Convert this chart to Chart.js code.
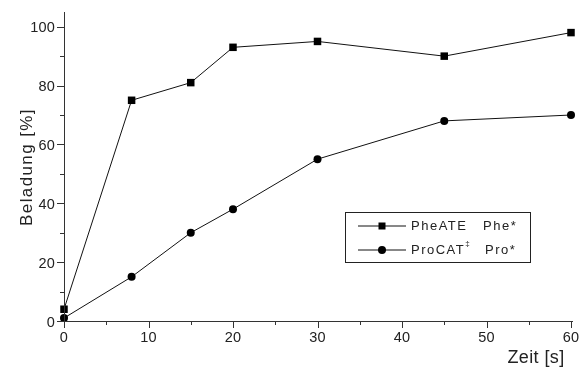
<!DOCTYPE html>
<html><head><meta charset="utf-8">
<script src="https://cdn.jsdelivr.net/npm/chart.js@4"></script>
<style>html,body{margin:0;padding:0;background:#fff}#c{display:block}</style>
</head><body>
<canvas id="c" width="581" height="367"></canvas>
<script>
const times = [0, 8, 15, 20, 30, 45, 60];
const pheATE = [4, 75, 81, 93, 95, 90, 98];
const proCAT = [1, 15, 30, 38, 55, 68, 70];
const xTicks = [0, 10, 20, 30, 40, 50, 60];
const yTicks = [0, 20, 40, 60, 80, 100];
const seriesNames = [['PheATE', 'Phe*', ''], ['ProCAT', 'Pro*', '\u2021']];
const FONT = '"Liberation Sans", Arial, sans-serif';
const AX = '#333';

const ticksPlugin = {
  id: 'customTicks',
  afterDraw(chart) {
    const ctx = chart.ctx, xs = chart.scales.x, ys = chart.scales.y;
    const ca = chart.chartArea;
    ctx.save();
    ctx.strokeStyle = AX; ctx.lineWidth = 1;
    ctx.beginPath();
    ctx.moveTo(ca.left + 0.5, ca.top); ctx.lineTo(ca.left + 0.5, ca.bottom + 0.5);
    ctx.lineTo(ca.right + 2, ca.bottom + 0.5);
    ctx.stroke();
    ctx.fillStyle = '#222';
    ctx.font = '14.5px ' + FONT;
    ctx.letterSpacing = '0.2px';
    for (let v = 0; v <= 60; v += 5) {
      const px = Math.round(xs.getPixelForValue(v)) + 0.5;
      const major = v % 10 === 0;
      ctx.beginPath(); ctx.moveTo(px, ca.bottom); ctx.lineTo(px, ca.bottom + (major ? 7 : 4)); ctx.stroke();
    }
    ctx.textAlign = 'center'; ctx.textBaseline = 'alphabetic';
    xTicks.forEach(v => ctx.fillText(String(v), xs.getPixelForValue(v), 342));
    for (let v = 0; v <= 100; v += 10) {
      const py = Math.round(ys.getPixelForValue(v)) + 0.5;
      const major = v % 20 === 0;
      ctx.beginPath(); ctx.moveTo(ca.left, py); ctx.lineTo(ca.left - (major ? 7 : 4), py); ctx.stroke();
    }
    ctx.textAlign = 'right'; ctx.textBaseline = 'alphabetic';
    yTicks.forEach(v => ctx.fillText(String(v), ca.left - 9, ys.getPixelForValue(v) + 5.5));
    // axis titles
    ctx.font = '18px ' + FONT;
    ctx.letterSpacing = '0.4px';
    ctx.textAlign = 'center'; ctx.textBaseline = 'alphabetic';
    ctx.fillText('Zeit [s]', 536, 363);
    ctx.font = '17px ' + FONT;
    ctx.letterSpacing = '1.4px';
    ctx.save();
    ctx.translate(32, 167); ctx.rotate(-Math.PI / 2);
    ctx.fillText('Beladung [%]', 0, 0);
    ctx.restore();
    // legend
    const bx = 345.5, by = 212.5, bw = 185, bh = 50;
    ctx.strokeStyle = '#222';
    ctx.strokeRect(bx, by, bw, bh);
    ctx.font = '13px ' + FONT;
    ctx.letterSpacing = '1.5px';
    ctx.textAlign = 'left'; ctx.textBaseline = 'middle';
    chart.data.datasets.forEach((ds, i) => {
      const y = by + 13.5 + i * 24;
      ctx.strokeStyle = '#111';
      ctx.beginPath(); ctx.moveTo(358, y); ctx.lineTo(406, y); ctx.stroke();
      ctx.fillStyle = '#000';
      if (i === 0) ctx.fillRect(378.5, y - 3.5, 7, 7);
      else { ctx.beginPath(); ctx.arc(382, y, 4, 0, Math.PI * 2); ctx.fill(); }
      ctx.fillStyle = '#222';
      const nm = seriesNames[i];
      ctx.fillText(nm[0], 411, y);
      let w = ctx.measureText(nm[0]).width;
      if (nm[2]) {
        ctx.font = '8px ' + FONT;
        ctx.letterSpacing = '0px';
        ctx.fillText(nm[2], 411 + w, y - 6);
        ctx.font = '13px ' + FONT;
        ctx.letterSpacing = '1.5px';
      }
      ctx.fillText(nm[1], i === 0 ? 483 : 485, y);
    });
    ctx.restore();
  }
};

new Chart(document.getElementById('c'), {
  type: 'scatter',
  data: {
    datasets: [
      { label: 'PheATE Phe*', data: times.map((t, i) => ({ x: t, y: pheATE[i] })), showLine: true,
        borderColor: '#111', borderWidth: 1, pointStyle: 'rect', pointRadius: 5.3,
        pointBackgroundColor: '#000', pointBorderColor: '#000', pointBorderWidth: 0 },
      { label: 'ProCAT Pro*', data: times.map((t, i) => ({ x: t, y: proCAT[i] })), showLine: true,
        borderColor: '#111', borderWidth: 1, pointStyle: 'circle', pointRadius: 4,
        pointBackgroundColor: '#000', pointBorderColor: '#000', pointBorderWidth: 0 }
    ]
  },
  options: {
    responsive: false, animation: false, clip: false,
    layout: { padding: { top: 12, right: 10, left: 0, bottom: 0 } },
    plugins: { legend: { display: false }, tooltip: { enabled: false } },
    scales: {
      x: { type: 'linear', min: 0, max: 60, grid: { display: false }, border: { display: false },
           ticks: { display: false }, afterFit(s) { s.height = 46; } },
      y: { type: 'linear', min: 0, max: 105, grid: { display: false }, border: { display: false },
           ticks: { display: false }, afterFit(s) { s.width = 64; } }
    }
  },
  plugins: [ticksPlugin]
});
</script>
</body></html>
